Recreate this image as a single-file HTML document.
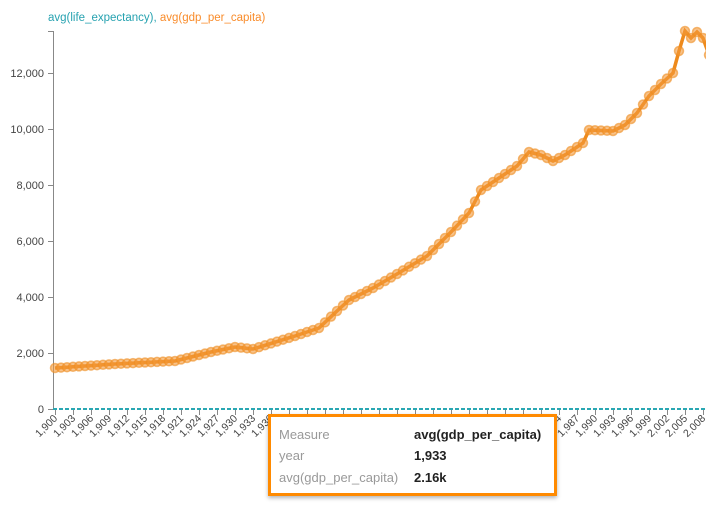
<!DOCTYPE html><html><head><style>
body{margin:0;width:706px;height:507px;overflow:hidden;background:#fff;font-family:"Liberation Sans",sans-serif}
#tt{position:absolute;left:268px;top:414px;width:283px;height:76px;border:3px solid #ff8a00;background:#fff;box-shadow:0 2px 4px rgba(0,0,0,.3);font-size:13px}
#tt div{position:absolute;left:8px}
#tt b{position:absolute;left:143px;color:#222}
</style></head><body>
<svg id="s" width="706" height="507" style="position:absolute;left:0;top:0" font-family="Liberation Sans, sans-serif">
<text x="48" y="21" font-size="11.5"><tspan fill="#26a2b0">avg(life_expectancy), </tspan><tspan fill="#f98c2b">avg(gdp_per_capita)</tspan></text>
<g id="ax" stroke="#888" fill="none"></g>
<g id="lb" font-size="11" fill="#444"></g>
</svg>
<div id="tt">
<div style="top:10px;color:#999">Measure</div><b style="top:10px">avg(gdp_per_capita)</b>
<div style="top:31px;color:#999">year</div><b style="top:31px">1,933</b>
<div style="top:53px;color:#999">avg(gdp_per_capita)</div><b style="top:53px">2.16k</b>
</div>
<script>
const s=document.getElementById('s'),ax=document.getElementById('ax'),lb=document.getElementById('lb');
let h='';let l='';
h+='<path d="M48,31.5H53.5V409.5"/>';
for(let v=0;v<=12000;v+=2000){let y=409-v*0.028;h+=`<path d="M48,${y+.5}H53"/>`;l+=`<text x="44" y="${y+4}" text-anchor="end">${v.toLocaleString('en-US')}</text>`;}
for(let yr=1900;yr<=2009;yr+=3){let x=55+(yr-1900)*6;h+=`<path d="M${x+.5},409V415"/>`;l+=`<text transform="translate(${x+3},419) rotate(-45)" text-anchor="end" font-size="10.5">${yr.toLocaleString('en-US')}</text>`;}
ax.innerHTML=h;lb.innerHTML=l;
const k=[[1900,368],[1910,364],[1920,361],[1926,352],[1930,347],[1933,349],[1940,336],[1944,328],[1947,311],[1949,300],[1953,288],[1957,274],[1962,256],[1966,232],[1969,213],[1971,190],[1974,178],[1977,166],[1979,152],[1981,155],[1983,161],[1985,155],[1988,143],[1989,130],[1993,131],[1995,125],[1997,113],[1999,96],[2001,84],[2003,73],[2004,51],[2005,31],[2006,38],[2007,32],[2008,38],[2009,55]];
function f(yr){for(let i=0;i<k.length-1;i++){if(yr>=k[i][0]&&yr<=k[i+1][0]){let t=(yr-k[i][0])/(k[i+1][0]-k[i][0]);return k[i][1]+t*(k[i+1][1]-k[i][1]);}}}
let pts=[];for(let yr=1900;yr<=2009;yr++)pts.push([55+(yr-1900)*6,f(yr)]);
let g='<path d="M53,409H706" stroke="#2aa7b3" stroke-width="2" stroke-dasharray="4,2" fill="none"/>';
g+=`<polyline points="${pts.map(p=>p.join(',')).join(' ')}" fill="none" stroke="#ee8a1c" stroke-width="3.5"/>`;
for(const p of pts)g+=`<circle cx="${p[0]}" cy="${p[1]}" r="4.5" fill="#f39a3a" fill-opacity=".6" stroke="#ef8d22" stroke-opacity=".6" stroke-width="1.5"/>`;
s.insertAdjacentHTML('beforeend',g);
</script>
</body></html>
